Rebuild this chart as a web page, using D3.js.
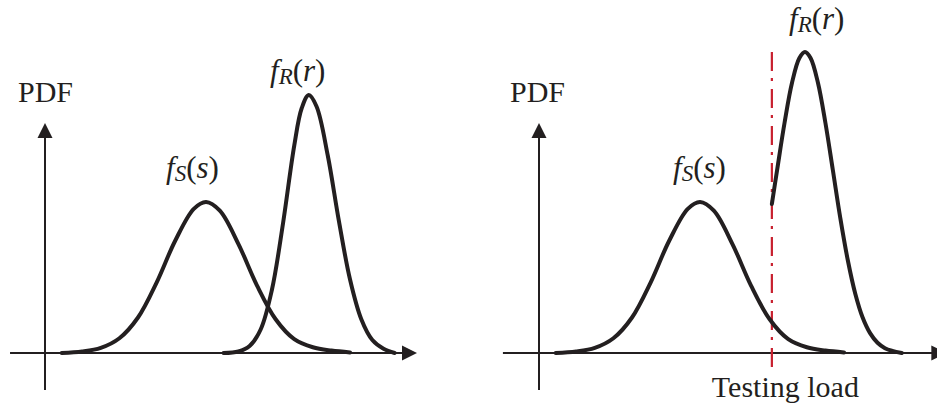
<!DOCTYPE html>
<html>
<head>
<meta charset="utf-8">
<script src="https://cdn.jsdelivr.net/npm/d3@7"></script>
<style>
  html, body { margin: 0; padding: 0; background: #fff; }
  svg { display: block; }
  text { font-family: "Liberation Serif", "DejaVu Serif", serif; fill: #231f20; }
</style>
</head>
<body>
<svg id="chart" width="937" height="409"></svg>
<script>
// stress curve (same in both panels), x in axis units, y in PDF units
const fsX = [4.5, 10, 15, 20, 25, 30, 35, 40, 43.3, 47, 52, 57, 62, 67, 72, 77, 82];
const fsY = [0, 0.005, 0.017, 0.049, 0.118, 0.234, 0.373, 0.479, 0.502, 0.473, 0.362, 0.224, 0.112, 0.046, 0.019, 0.008, 0.002];

// strength curve, left panel
const frLeftX = [48, 52, 55, 58, 61, 64, 67, 69, 70.9, 73, 76, 79, 82, 85, 88, 91, 94];
const frLeftY = [0, 0.005, 0.023, 0.079, 0.21, 0.432, 0.689, 0.813, 0.857, 0.819, 0.657, 0.439, 0.244, 0.113, 0.043, 0.014, 0];

// strength curve after proof test, right panel (truncated at testing load)
const frRightX = [62.6, 64, 66, 68, 70, 71.5, 73, 75, 77, 79, 81, 83, 85, 87, 89, 91, 93, 95, 97.5];
const frRightY = [0.495, 0.607, 0.764, 0.897, 0.98, 1, 0.98, 0.897, 0.764, 0.607, 0.448, 0.309, 0.198, 0.118, 0.066, 0.034, 0.016, 0.007, 0];

const testingLoad = 62.6;
const testingLineY = [-0.055, 1.0];

const axisLabel = 'PDF';
const testingLabel = 'Testing load';

const INK = '#231f20';
const RED = '#c8202f';
const UNIT = 3.72;

const svg = d3.select('#chart');
const y = d3.scaleLinear().domain([0, 1]).range([353, 52]);

const panels = [
  { ox: 45, xMin: -9.4, xMax: 100, fr: [frLeftX, frLeftY], pdfX: 18, fsLab: 166, frLab: [270, 81] },
  { ox: 539, xMin: -9.7, xMax: 109.5, fr: [frRightX, frRightY], pdfX: 510, fsLab: 673, frLab: [789, 29], test: true }
];

const line = (x) => d3.line()
  .x(d => x(d[0]))
  .y(d => y(d[1]))
  .curve(d3.curveCatmullRom.alpha(0.5));

function arrowHead(g, tipX, tipY, dir) {
  const L = 15, W = 7.5;
  const pts = dir === 'up'
    ? [[tipX, tipY], [tipX - W, tipY + L], [tipX + W, tipY + L]]
    : [[tipX, tipY], [tipX - L, tipY - W], [tipX - L, tipY + W]];
  g.append('path').attr('d', 'M' + pts.join('L') + 'Z').attr('fill', INK);
}

function label(g, x, base, main, sub, arg) {
  const t = g.append('text').attr('x', x).attr('y', base).attr('font-size', 31);
  t.append('tspan').attr('font-style', 'italic').text(main);
  t.append('tspan').attr('font-style', 'italic').attr('font-size', 23).attr('dy', 3).text(sub);
  t.append('tspan').attr('dy', -3).text('(');
  t.append('tspan').attr('font-style', 'italic').text(arg);
  t.append('tspan').text(')');
}

panels.forEach(p => {
  const x = d3.scaleLinear().domain([0, 100]).range([p.ox, p.ox + 100 * UNIT]);
  const g = svg.append('g');

  // axes
  g.append('line')
    .attr('x1', x(p.xMin)).attr('x2', x(p.xMax) - 10)
    .attr('y1', y(0)).attr('y2', y(0))
    .attr('stroke', INK).attr('stroke-width', 2);
  arrowHead(g, x(p.xMax), y(0), 'right');
  g.append('line')
    .attr('x1', x(0)).attr('x2', x(0))
    .attr('y1', y(-0.123)).attr('y2', y(0.764) + 10)
    .attr('stroke', INK).attr('stroke-width', 2);
  arrowHead(g, x(0), y(0.764), 'up');

  g.append('text').attr('x', p.pdfX).attr('y', 102).attr('font-size', 30).text(axisLabel);

  if (p.test) {
    g.append('line')
      .attr('x1', x(testingLoad)).attr('x2', x(testingLoad))
      .attr('y1', y(testingLineY[1])).attr('y2', y(testingLineY[0]))
      .attr('stroke', RED).attr('stroke-width', 2.2)
      .attr('stroke-dasharray', '19,7,3,8');
    g.append('text').attr('x', x(testingLoad) - 60).attr('y', 397)
      .attr('font-size', 30).text(testingLabel);
  }

  const curve = (xs, ys) => g.append('path')
    .attr('d', line(x)(xs.map((v, i) => [v, ys[i]])))
    .attr('fill', 'none').attr('stroke', INK)
    .attr('stroke-width', 4).attr('stroke-linejoin', 'round').attr('stroke-linecap', 'round');

  curve(fsX, fsY);
  curve(p.fr[0], p.fr[1]);

  label(g, p.fsLab, 178, 'f', 'S', 's');
  label(g, p.frLab[0], p.frLab[1], 'f', 'R', 'r');
});
</script>
</body>
</html>
